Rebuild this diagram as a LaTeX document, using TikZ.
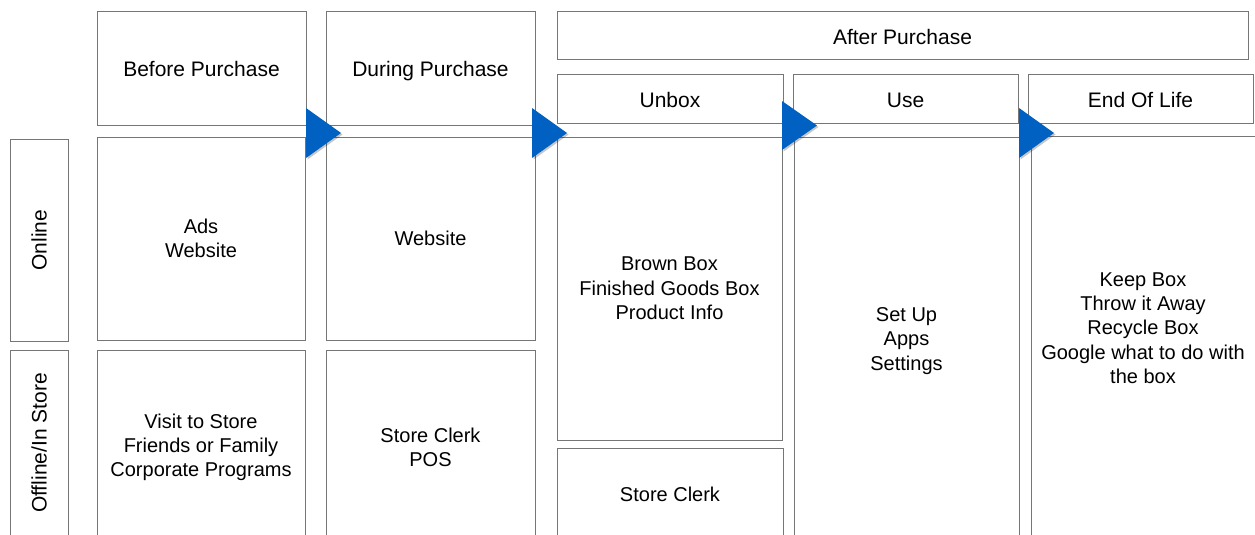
\documentclass[tikz,border=0pt]{standalone}
\usepackage{fontspec}
\setmainfont{Liberation Sans}
\definecolor{edge}{HTML}{767676}
\definecolor{flow}{HTML}{0061C2}
% box from its corners: name, style, x1, y1, x2, y2, text
\newcommand\gridcell[7]{%
  \node[#2, minimum width={#5-#3}, minimum height={#6-#4}] (#1)
    at ({(#3+#5)/2},{(#4+#6)/2}) {#7};}
% stage arrow: left x, top y, bottom y
\newcommand\stagetip[3]{%
  \fill[black, opacity=0.22] (#1+1.5,#2+1.5) -- (#1+36.5,{(#2+#3)/2+1.5}) -- (#1+1.5,#3+1.5) -- cycle;
  \fill[flow] (#1,#2) -- (#1+35,{(#2+#3)/2}) -- (#1,#3) -- cycle;}
\begin{document}
\begin{tikzpicture}[x=1pt,y=-1pt,
  cell/.style={draw=edge, line width=1pt, align=center, inner sep=0pt,
    font=\fontsize{20}{24.3}\selectfont},
  head/.style={cell, text height=17, text depth=0, font=\fontsize{21}{25}\selectfont},
  rowhead/.style={cell, rotate=90, font=\fontsize{21}{25}\selectfont},
  txt/.style={align=center, inner sep=0pt, font=\fontsize{20}{24.3}\selectfont}]
\useasboundingbox (0,0) rectangle (1255,535);
\clip (0,0) rectangle (1255,535);

% row headings (rotated)
\node[rowhead, minimum width=202, minimum height=58] (online) at (39,240) {Online};
\node[rowhead, minimum width=195, minimum height=58] (offline) at (39,447.5) {};
\node[font=\fontsize{21}{25}\selectfont, rotate=90] (offlinetxt) at (39,443) {Offline/In Store};

% before purchase
\gridcell{bphead}{head}{97}{12}{306}{125}{Before Purchase}
\gridcell{bpon}{cell}{97}{137}{305}{340}{Ads\\Website}
\gridcell{bpoff}{cell}{97}{350}{305}{545}{Visit to Store\\Friends or Family\\Corporate Programs}

% during purchase
\gridcell{dphead}{head}{326}{12}{535}{125}{During Purchase}
\gridcell{dpon}{cell}{326}{137}{535}{340}{Website}
\gridcell{dpoff}{cell}{326}{350}{535}{545}{Store Clerk\\POS}

% after purchase
\gridcell{aphead}{head}{557}{12}{1248}{60}{After Purchase}
\gridcell{ubhead}{head}{557}{74}{783}{123}{Unbox}
\gridcell{ubon}{cell}{557}{137}{782}{440}{Brown Box\\Finished Goods Box\\Product Info}
\gridcell{uboff}{cell}{557}{448}{783}{540}{Store Clerk}
\gridcell{usehead}{head}{793}{74}{1018}{123}{Use}
\gridcell{usebody}{cell}{794}{137}{1019}{545}{Set Up\\Apps\\Settings}
\gridcell{eolhead}{head}{1028}{74}{1253}{123}{End Of Life}
\gridcell{eolbody}{cell}{1031}{136}{1262}{545}{}
\node[txt] (eoltxt) at (1143,328) {Keep Box\\Throw it Away\\Recycle Box\\Google what to do with\\the box};

% stage arrows
\stagetip{306}{108}{158}
\stagetip{532}{108}{158}
\stagetip{782}{101}{150}
\stagetip{1019}{108}{158}
\end{tikzpicture}
\end{document}
